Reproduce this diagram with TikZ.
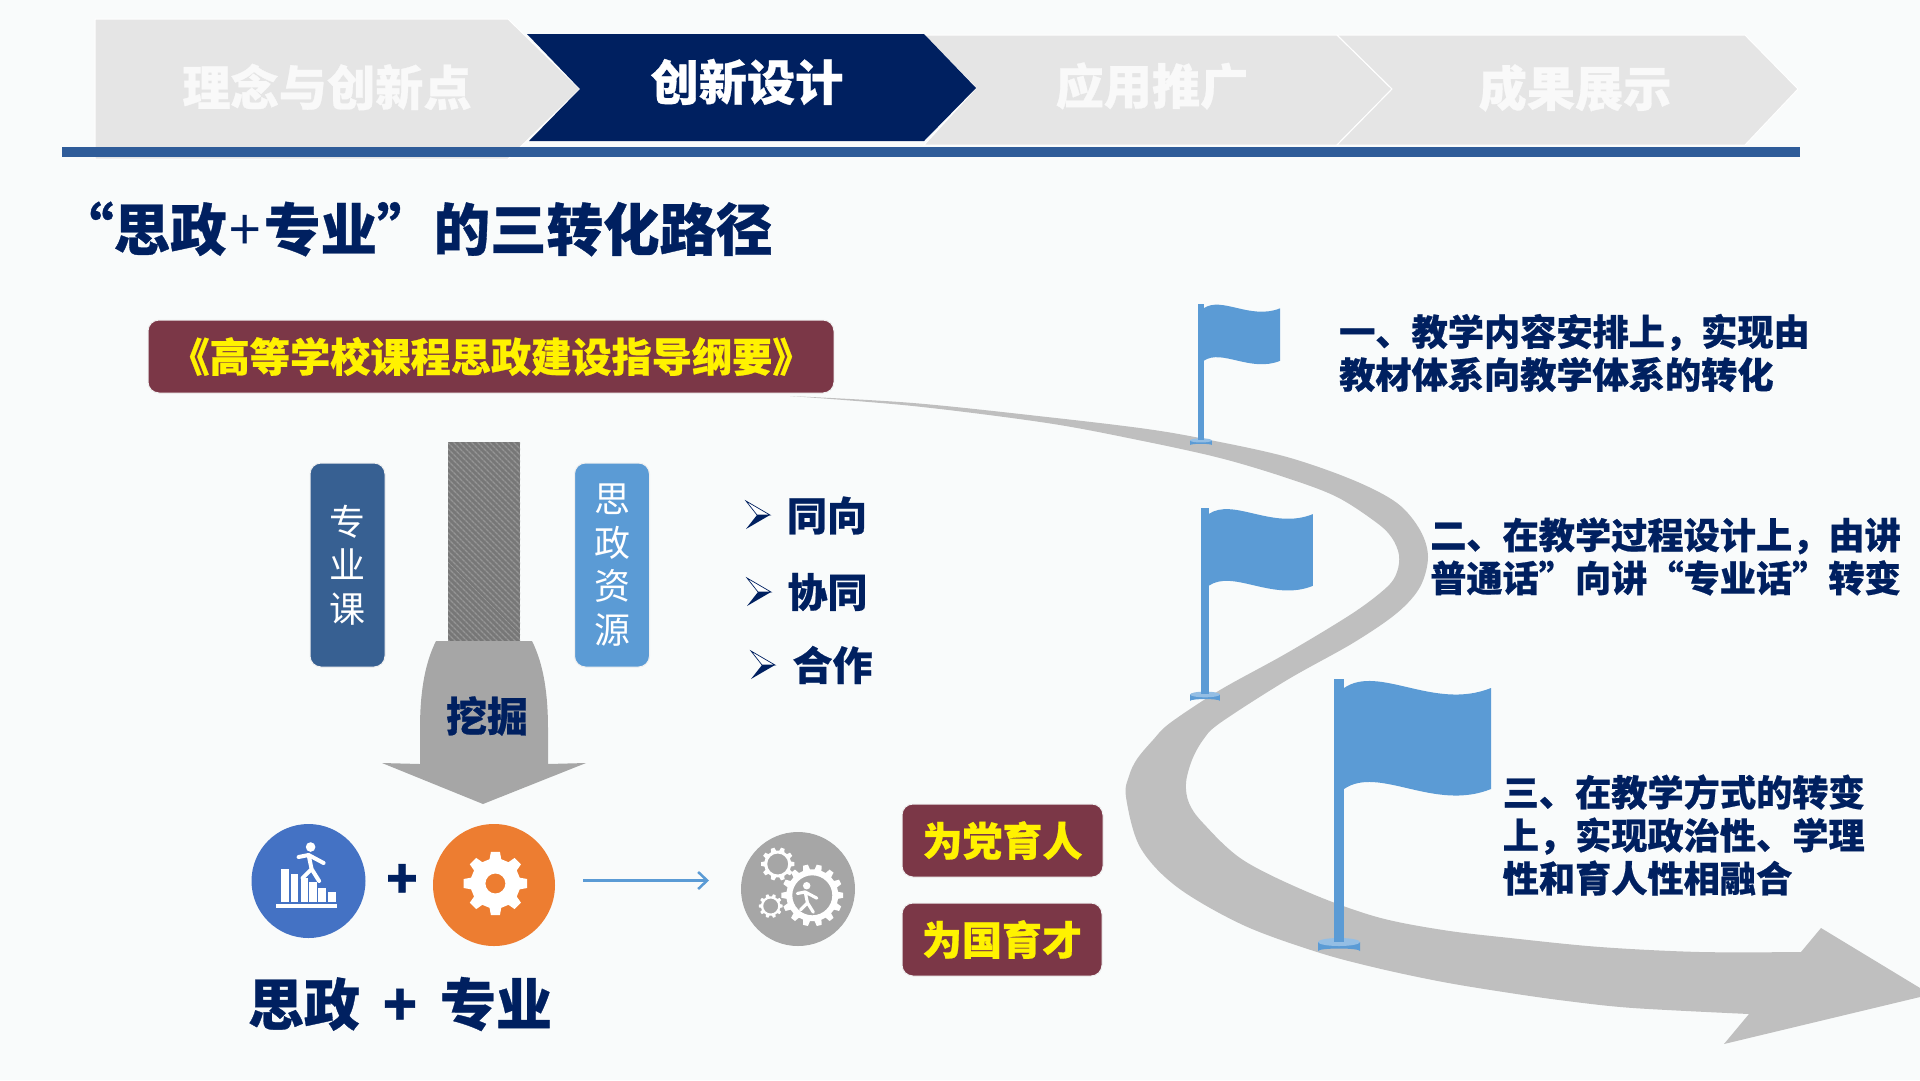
\documentclass[tikz,border=0pt]{standalone}
\usepackage{fontspec}
\usetikzlibrary{arrows.meta,patterns.meta}
\newfontfamily\cjk{Noto Sans CJK SC}[BoldFeatures={FakeBold=0.6}]
\definecolor{pagebg}{HTML}{F9FBFB}
\definecolor{navy}{HTML}{002060}
\definecolor{lightgrey}{HTML}{E5E5E5}
\definecolor{road}{HTML}{BFBFBF}
\definecolor{arrowgrey}{HTML}{A6A6A6}
\definecolor{skyblue}{HTML}{5B9BD5}
\definecolor{steelblue}{HTML}{376092}
\definecolor{maroon}{HTML}{7B3747}
\definecolor{maroondark}{HTML}{5E2C3C}
\definecolor{steeldark}{HTML}{2C5480}
\definecolor{skydark}{HTML}{4A88C4}
\definecolor{barblue}{HTML}{2F5C99}
\definecolor{ballblue}{HTML}{4472C4}
\definecolor{ballorange}{HTML}{ED7D31}
\definecolor{hatchdark}{HTML}{777777}
\definecolor{hatchlight}{HTML}{959595}
\pgfdeclareverticalshading{maroonshade}{100bp}{color(0bp)=(maroon);color(85bp)=(maroon);color(100bp)=(maroondark)}
\pgfdeclareverticalshading{steelshade}{100bp}{color(0bp)=(steeldark);color(12bp)=(steelblue);color(90bp)=(steelblue);color(100bp)=(steeldark)}
\pgfdeclareverticalshading{skyshade}{100bp}{color(0bp)=(skyblue);color(92bp)=(skyblue);color(100bp)=(skydark)}
\newcommand{\cjksize}[2]{\cjk\bfseries\fontsize{#1}{#2}\selectfont}
\newcommand{\cjkplain}[2]{\cjk\fontsize{#1}{#2}\selectfont}
\newcommand{\gearwheel}[6]{%
	\begin{scope}[shift={(#1)}]
		\pgfmathsetmacro{\gearstep}{360/#5}
		\fill[#6,even odd rule] (-0.3*\gearstep:#3)
			\foreach \tooth in {1,...,#5}{
				-- ({(\tooth-1)*\gearstep-0.18*\gearstep}:#2)
				-- ({(\tooth-1)*\gearstep+0.18*\gearstep}:#2)
				-- ({(\tooth-1)*\gearstep+0.3*\gearstep}:#3)
				-- ({\tooth*\gearstep-0.3*\gearstep}:#3)
			} -- cycle (0,0) circle (#4);
	\end{scope}}
\newcommand{\runner}[3]{%
	\begin{scope}[shift={(#1)},scale=#2]
		\fill[#3] (0,0) circle (4.8);
		\draw[#3,line width=#2*4pt,line cap=round,line join=round] (-12,10) -- (-2,8) -- (13,16) (-2,8) -- (1,22) -- (-8,31) (1,22) -- (8.5,34);
	\end{scope}}
\tikzset{
	chevron/.style={draw=white,line width=1pt,fill=lightgrey},
	steplabel/.style={text=#1,inner sep=0pt,font=\cjksize{48.2}{56}},
	headlabel/.style={text=navy,inner sep=0pt,font=\cjksize{#1}{#1}},
	notelabel/.style={text=navy,inner sep=0pt,anchor=west,align=left,font=\cjksize{36.2}{43}},
	maroonbox/.style={rounded corners=11pt,shading=maroonshade,draw=white!88!gray,line width=1pt,text=yellow,inner sep=0pt,font=\cjksize{#1}{#1}},
	sidebox/.style={rounded corners=11pt,shading=#1,draw=white!88!gray,line width=1pt,text=white,inner sep=0pt,align=center,minimum width=75pt,minimum height=204pt,font=\cjkplain{36}{43.5}},
	flagpic/.pic={
		\fill[skyblue] (5,-259) .. controls (40,-283) and (95,-236) .. (152,-259) -- (152,-158) .. controls (95,-135) and (40,-182) .. (5,-158) -- cycle;
		\fill[skyblue] (-21,-5) -- (21,-5) -- (21,4) arc[start angle=0,end angle=180,x radius=21,y radius=-2.5] -- cycle;
		\fill[skyblue!65!white] (0,-5) ellipse (21 and 4);
		\fill[skyblue] (-5,-268) rectangle (5,-5);
	},
	tipmark/.pic={
		\filldraw[fill=white,draw=navy,line width=0.7pt] (0,-14) -- (24,0) -- (11,0) -- cycle;
		\fill[navy] (0,14) -- (24,0) -- (11,0) -- cycle;
	},
}
\begin{document}
\begin{tikzpicture}[x=1pt,y=-1pt]
	\useasboundingbox (0,0) rectangle (1920,1080);
	\fill[pagebg] (0,0) rectangle (1920,1080);
	\path[chevron] (95,19) -- (508,19) -- (580,89) -- (508,159) -- (95,159) -- cycle;
	\path[chevron] (924,35) -- (1337,35) -- (1392,89) -- (1337,145) -- (924,145) -- (976,88) -- cycle;
	\path[chevron] (1337,35) -- (1745,35) -- (1798,89) -- (1745,145) -- (1337,145) -- (1392,89) -- cycle;
	\fill[navy] (527,34) -- (924,34) -- (976,88) -- (924,141) -- (529,141) -- (580,89) -- cycle;
	\fill[barblue] (62,147) rectangle (1800,157);
	\node[steplabel=white!95!gray] (stepone) at (327,87) {理念与创新点};
	\node[steplabel=white] (steptwo) at (747,82) {创新设计};
	\node[steplabel=white!95!gray] (stepthree) at (1152,86) {应用推广};
	\node[steplabel=white!95!gray] (stepfour) at (1575,88) {成果展示};
	\node[headlabel=56.5,anchor=west] (title) at (57,229) {“思政\hspace{3pt}{\mdseries +}\hspace{3pt}专业”的三转化路径};
	\node[maroonbox=40.2,minimum width=686pt,minimum height=73pt] (outline) at (491,356.5) {《高等学校课程思政建设指导纲要》};
	\fill[road] plot[smooth,tension=0.55] coordinates {(790,396) (913,403) (1047,417) (1147,429) (1210,440) (1287,457) (1353,480) (1397,503) (1420,530) (1428,557) (1420,587) (1397,613) (1353,643) (1287,680) (1220,723) (1203,740) (1192,760) (1186,783) (1189,803) (1203,823) (1243,860) (1310,893) (1377,917) (1443,930) (1510,938) (1600,947) (1700,952) (1801,952)}
		-- (1821,928) -- (1920,988) -- (1920,997) -- (1724,1044) -- (1749,1014)
		-- plot[smooth,tension=0.55] coordinates {(1749,1014) (1633,1008) (1567,1001) (1510,993) (1443,982) (1377,968) (1317,952) (1243,925) (1177,887) (1140,847) (1126,797) (1129,776) (1137,759) (1153,740) (1170,723) (1220,690) (1287,653) (1353,613) (1387,587) (1397,572) (1399,555) (1392,538) (1377,523) (1337,497) (1287,478) (1220,458) (1138,440) (1047,423) (913,406) (790,396)} -- cycle;
	\pic at (1201,443) [scale=0.52] {flagpic};
	\pic at (1205,698) [scale=0.71] {flagpic};
	\pic at (1339,947) {flagpic};
	\node[notelabel] (noteone) at (1339,353) {一、教学内容安排上，实现由\\教材体系向教学体系的转化};
	\node[notelabel] (notetwo) at (1430,556.5) {二、在教学过程设计上，由讲\\普通话”向讲“专业话”转变};
	\node[notelabel] (notethree) at (1502.5,835) {三、在教学方式的转变\\上，实现政治性、学理\\性和育人性相融合};
	\node[sidebox=steelshade] (course) at (347.5,565) {专\\业\\课};
	\node[sidebox=skyshade] (resource) at (612,565) {思\\政\\资\\源};
	\fill[hatchdark] (448,442) rectangle (520,641);
	\fill[pattern={Lines[angle=-45,distance=4pt,line width=1.5pt]},pattern color=hatchlight] (448,442) rectangle (520,641);
	\fill[arrowgrey] (436,641) -- (532,641) .. controls (544,665) and (548,695) .. (548,729) -- (548,764) -- (586,763) -- (483,804) -- (382,763) -- (420,764) -- (420,729) .. controls (420,695) and (424,665) .. (436,641) -- cycle;
	\node[headlabel=41] (dig) at (487,716) {挖掘};
	\pic at (746,515) {tipmark};
	\pic at (747,592) {tipmark};
	\pic at (751,665) {tipmark};
	\node[headlabel=40] (same) at (827,515.5) {同向};
	\node[headlabel=40] (joint) at (827.5,592) {协同};
	\node[headlabel=40] (coop) at (832.5,665) {合作};
	\node[circle,fill=ballblue,minimum size=114pt,inner sep=0pt] (siball) at (308.5,881) {};
	\foreach \barx/\bartop in {281/868.5,290.5/874,300.5/878,309/882,318/887.5,328/892}
		\fill[white] (\barx,\bartop) rectangle (\barx+7.5,901.5);
	\fill[white] (276,904) rectangle (337,908);
	\runner{310.6,847}{1}{white}
	\node[headlabel=52] (plus) at (402,881) {+};
	\node[circle,fill=ballorange,minimum size=122pt,inner sep=0pt] (proball) at (494,885) {};
	\gearwheel{495.4,883.5}{32}{25}{10}{8}{white}
	\node[circle,fill=arrowgrey,minimum size=114pt,inner sep=0pt] (gearball) at (798,889) {};
	\gearwheel{812.3,895.3}{31}{26}{20}{14}{white}
	\gearwheel{777.7,864}{16.7}{13.5}{10.5}{10}{white}
	\gearwheel{770.7,906}{12}{9.7}{7.5}{10}{white}
	\runner{806.7,885.7}{0.78}{white}
	\coordinate (flowstart) at (583,880.5);
	\coordinate (flowend) at (709,880.5);
	\draw[skyblue,line width=2.5pt,-{Straight Barb[length=9pt,width=17pt]}] (flowstart) -- (flowend);
	\node[maroonbox=40,minimum width=201pt,minimum height=73pt] (party) at (1002.5,840.5) {为党育人};
	\node[maroonbox=40,minimum width=200pt,minimum height=73pt] (nation) at (1002,939.5) {为国育才};
	\node[headlabel=56] (sum) at (400,1004) {思政\hspace{23pt}+\hspace{23pt}专业};
\end{tikzpicture}
\end{document}
